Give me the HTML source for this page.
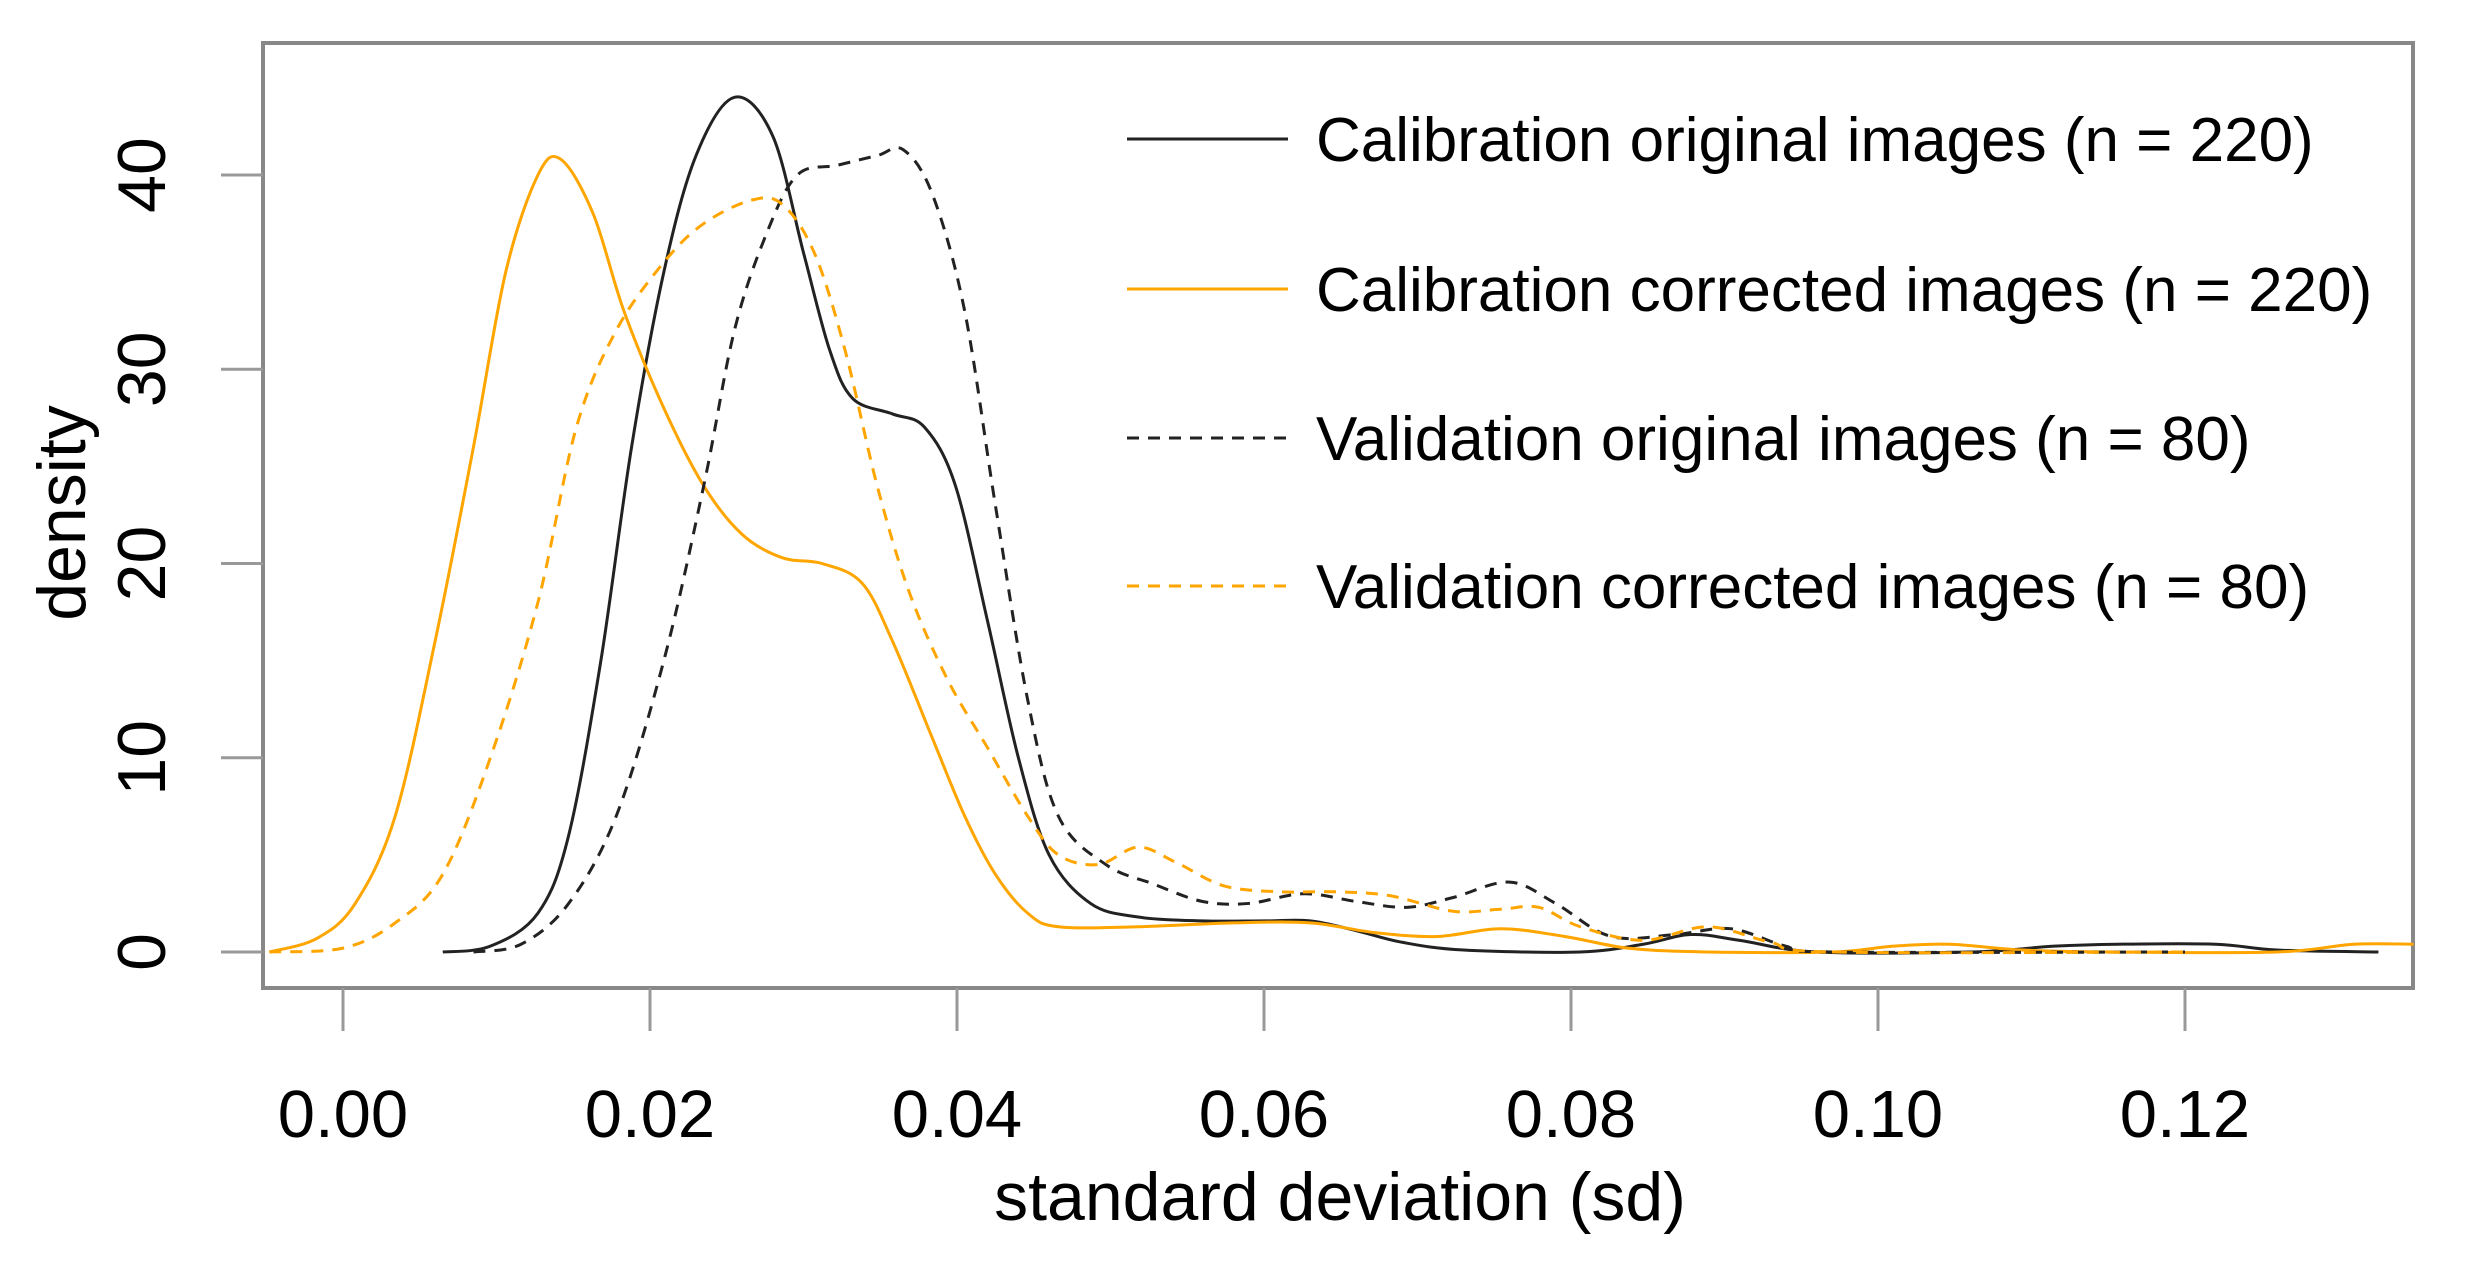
<!DOCTYPE html>
<html><head><meta charset="utf-8"><style>
html,body{margin:0;padding:0;background:#fff;}
svg{display:block;}
text{font-family:"Liberation Sans",Arial,sans-serif;fill:#000;}
</style></head><body>
<svg id="chart" width="2475" height="1276" viewBox="0 0 2475 1276" xmlns="http://www.w3.org/2000/svg">
<rect x="0" y="0" width="2475" height="1276" fill="#fff"/>
<g id="axes"></g>
<g id="series"></g>
<g id="legend"></g>
</svg>
<script>
const xTicks=[0,0.02,0.04,0.06,0.08,0.10,0.12];
const xTickLabels=["0.00","0.02","0.04","0.06","0.08","0.10","0.12"];
const yTicks=[0,10,20,30,40];
const yTickLabels=["0","10","20","30","40"];
const seriesNames=["Calibration original images (n = 220)","Calibration corrected images (n = 220)","Validation original images (n = 80)","Validation corrected images (n = 80)"];
const calOrigX=[0.0065,0.0096,0.0127,0.0147,0.0168,0.0188,0.0209,0.023,0.0255,0.028,0.030,0.0317,0.0332,0.0358,0.0379,0.0399,0.042,0.044,0.046,0.0487,0.0518,0.056,0.060,0.063,0.066,0.069,0.073,0.0806,0.0847,0.0878,0.091,0.096,0.106,0.1115,0.1156,0.122,0.126,0.1326];
const calOrigY=[0,0.3,2,6,15,26,35,41,44,42,36,31,28.5,27.7,27,24,17,10,5,2.5,1.8,1.6,1.6,1.6,1.1,0.5,0.1,0,0.4,0.9,0.6,0,0,0.3,0.4,0.4,0.1,0];
const calCorrX=[-0.0048,-0.0017,0.0008,0.0034,0.006,0.0085,0.0106,0.0127,0.0142,0.0163,0.0183,0.0209,0.0235,0.026,0.0286,0.0312,0.0338,0.0358,0.0384,0.0405,0.0425,0.0446,0.0466,0.0518,0.058,0.063,0.0672,0.0713,0.0754,0.0796,0.0837,0.0889,0.097,0.101,0.1047,0.1094,0.1156,0.126,0.131,0.1349];
const calCorrY=[0,0.7,2.5,7,16,26,35,40,40.8,38,33,28,24,21.5,20.3,20,19,16,11,7,4,2,1.3,1.3,1.5,1.5,1.0,0.8,1.2,0.8,0.2,0,0,0.3,0.4,0.1,0,0,0.4,0.4];
const valOrigX=[0.0085,0.0116,0.0147,0.0178,0.0209,0.0235,0.0255,0.0276,0.0296,0.0322,0.0348,0.0365,0.0384,0.0405,0.0425,0.0446,0.0466,0.0497,0.0528,0.056,0.059,0.0626,0.066,0.0693,0.0723,0.076,0.079,0.0826,0.0868,0.0904,0.094,0.097,0.12];
const valOrigY=[0,0.4,2.5,7,15,24,32,37,40,40.5,41,41.3,39,33,23,13,7,4.5,3.5,2.6,2.5,3.0,2.6,2.3,2.8,3.6,2.5,0.8,0.9,1.2,0.3,0,0];
const valCorrX=[-0.0048,0,0.0034,0.0065,0.0096,0.0127,0.0152,0.0178,0.0209,0.0235,0.0266,0.0286,0.0307,0.0327,0.0348,0.0369,0.0394,0.042,0.0446,0.0466,0.0492,0.0518,0.0543,0.0574,0.061,0.0646,0.0682,0.0723,0.0754,0.0779,0.0806,0.0847,0.0889,0.093,0.097,0.12];
const valCorrY=[0,0.2,1.5,4,10,18,27,32,35.5,37.5,38.7,38.5,36,31,24,18.5,14,10.5,7,5,4.5,5.4,4.6,3.4,3.1,3.1,2.9,2.1,2.2,2.3,1.3,0.6,1.3,0.5,0,0];

const NS="http://www.w3.org/2000/svg";
const X0=343, XS=15350, Y0=952, YS=19.425;
const PL=263, PR=2413, PT=43, PB=988;
function sx(v){return X0+v*XS;}
function sy(v){return Y0-v*YS;}
function mk(tag,attrs,parent){const e=document.createElementNS(NS,tag);for(const k in attrs)e.setAttribute(k,attrs[k]);parent.appendChild(e);return e;}
const axes=document.getElementById('axes');
const ser=document.getElementById('series');
const leg=document.getElementById('legend');

const frame=mk('rect',{x:PL,y:PT,width:PR-PL,height:PB-PT,fill:'none',stroke:'#888',"stroke-width":4},axes);



xTicks.forEach((t,i)=>{
  const l=mk('line',{x1:sx(t),x2:sx(t),y1:PB,y2:1031,stroke:'#999',"stroke-width":3},axes);
  
  
  const tx=mk('text',{x:sx(t),y:1137,"font-size":67,"text-anchor":"middle"},axes);
  tx.textContent=xTickLabels[i];
  
  
});
yTicks.forEach((t,i)=>{
  const l=mk('line',{x1:221,x2:PL,y1:sy(t),y2:sy(t),stroke:'#999',"stroke-width":3},axes);
  
  
  const tx=mk('text',{x:0,y:0,"font-size":68,"text-anchor":"middle",transform:`translate(165,${sy(t)}) rotate(-90)`},axes);
  tx.textContent=yTickLabels[i];
  
  
});
const xt=mk('text',{x:1340,y:1220,"font-size":68,"text-anchor":"middle"},axes);
xt.textContent="standard deviation (sd)";


const yt=mk('text',{x:0,y:0,"font-size":68,"text-anchor":"middle",transform:"translate(85,513) rotate(-90)"},axes);
yt.textContent="density";



function pathFor(xs,ys){
  const p=xs.map((x,i)=>[sx(x),sy(ys[i])]);
  let d=`M${p[0][0]},${p[0][1]}`;
  for(let i=0;i<p.length-1;i++){
    const p0=p[i-1]||p[i],p1=p[i],p2=p[i+1],p3=p[i+2]||p2;
    const c1=[p1[0]+(p2[0]-p0[0])/6,p1[1]+(p2[1]-p0[1])/6];
    const c2=[p2[0]-(p3[0]-p1[0])/6,p2[1]-(p3[1]-p1[1])/6];
    d+=` C${c1[0]},${c1[1]} ${c2[0]},${c2[1]} ${p2[0]},${p2[1]}`;
  }
  return d;
}
const styles=[
  {c:'#222',dash:null,xs:calOrigX,ys:calOrigY,n:'calibration-original-curve'},
  {c:'#FFA500',dash:null,xs:calCorrX,ys:calCorrY,n:'calibration-corrected-curve'},
  {c:'#222',dash:'12 9',xs:valOrigX,ys:valOrigY,n:'validation-original-curve'},
  {c:'#FFA500',dash:'12 9',xs:valCorrX,ys:valCorrY,n:'validation-corrected-curve'}
];
styles.forEach(s=>{
  const a={d:pathFor(s.xs,s.ys),fill:'none',stroke:s.c,"stroke-width":3};
  if(s.dash)a["stroke-dasharray"]=s.dash;
  const p=mk('path',a,ser);
  
  
});
const legY=[139,289,438,586];
styles.forEach((s,i)=>{
  const a={x1:1127,x2:1288,y1:legY[i],y2:legY[i],stroke:s.c,"stroke-width":3};
  if(s.dash)a["stroke-dasharray"]=s.dash;
  const l=mk('line',a,leg);
  
  
  const t=mk('text',{x:1316,y:legY[i]+22,"font-size":62},leg);
  t.textContent=seriesNames[i];
  
  
});
</script>
</body></html>
